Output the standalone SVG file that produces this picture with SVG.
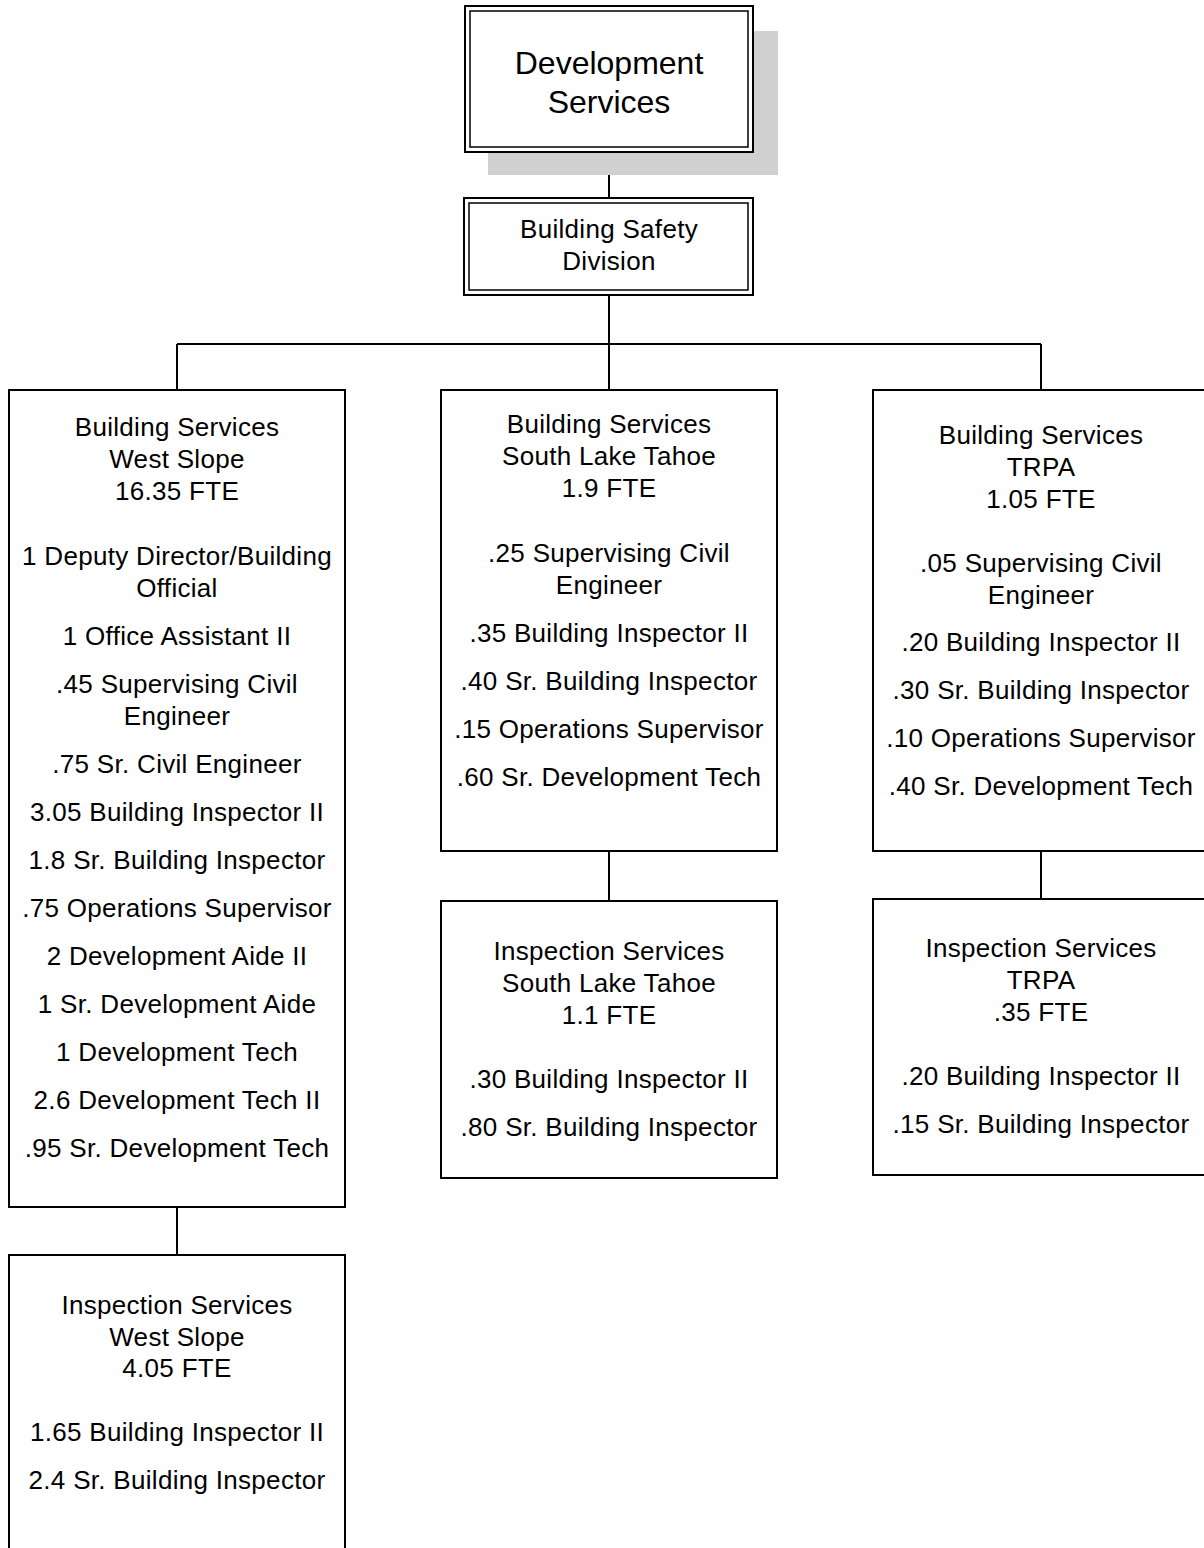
<svg xmlns="http://www.w3.org/2000/svg" width="1204" height="1548" viewBox="0 0 1204 1548">
<style>
.bx{fill:#fff;stroke:#000;stroke-width:2}
.in{fill:none;stroke:#000;stroke-width:1.5}
.sh{fill:#d0d0d0}
.ln{stroke:#000;stroke-width:2;fill:none}
text{font-family:"Liberation Sans",Arial,sans-serif;font-size:26px;letter-spacing:0.3px;fill:#000;text-anchor:middle}
.big{font-size:32px;letter-spacing:0}
</style>
<rect width="1204" height="1548" fill="#fff"/>
<g id="connectors">
<line class="ln" x1="609" y1="152" x2="609" y2="198"/>
<line class="ln" x1="609" y1="295" x2="609" y2="390"/>
<line class="ln" x1="177" y1="344" x2="1041" y2="344"/>
<line class="ln" x1="177" y1="344" x2="177" y2="390"/>
<line class="ln" x1="1041" y1="344" x2="1041" y2="390"/>
<line class="ln" x1="177" y1="1207" x2="177" y2="1255"/>
<line class="ln" x1="609" y1="851" x2="609" y2="901"/>
<line class="ln" x1="1041" y1="851" x2="1041" y2="899"/>
</g>
<g id="development-services">
<rect class="sh" x="488" y="31" width="290" height="144"/>
<rect class="bx" x="465" y="6" width="288" height="146"/>
<rect class="in" x="470" y="11" width="278" height="136"/>
<text class="big" x="609" y="74">Development</text>
<text class="big" x="609" y="113">Services</text>
</g>
<g id="building-safety-division">
<rect class="bx" x="464" y="198" width="289" height="97"/>
<rect class="in" x="469" y="203" width="279" height="87"/>
<text x="609" y="238">Building Safety</text>
<text x="609" y="270">Division</text>
</g>
<g id="bs-west-slope">
<rect class="bx" x="9" y="390" width="336" height="817"/>
<text x="177" y="436">Building Services</text>
<text x="177" y="468">West Slope</text>
<text x="177" y="500">16.35 FTE</text>
<text x="177" y="565">1 Deputy Director/Building</text>
<text x="177" y="597">Official</text>
<text x="177" y="645">1 Office Assistant II</text>
<text x="177" y="693">.45 Supervising Civil</text>
<text x="177" y="725">Engineer</text>
<text x="177" y="773">.75 Sr. Civil Engineer</text>
<text x="177" y="821">3.05 Building Inspector II</text>
<text x="177" y="869">1.8 Sr. Building Inspector</text>
<text x="177" y="917">.75 Operations Supervisor</text>
<text x="177" y="965">2 Development Aide II</text>
<text x="177" y="1013">1 Sr. Development Aide</text>
<text x="177" y="1061">1 Development Tech</text>
<text x="177" y="1109">2.6 Development Tech II</text>
<text x="177" y="1157">.95 Sr. Development Tech</text>
</g>
<g id="bs-south-lake-tahoe">
<rect class="bx" x="441" y="390" width="336" height="461"/>
<text x="609" y="433">Building Services</text>
<text x="609" y="465">South Lake Tahoe</text>
<text x="609" y="497">1.9 FTE</text>
<text x="609" y="562">.25 Supervising Civil</text>
<text x="609" y="594">Engineer</text>
<text x="609" y="642">.35 Building Inspector II</text>
<text x="609" y="690">.40 Sr. Building Inspector</text>
<text x="609" y="738">.15 Operations Supervisor</text>
<text x="609" y="786">.60 Sr. Development Tech</text>
</g>
<g id="bs-trpa">
<rect class="bx" x="873" y="390" width="336" height="461"/>
<text x="1041" y="444">Building Services</text>
<text x="1041" y="476">TRPA</text>
<text x="1041" y="508">1.05 FTE</text>
<text x="1041" y="572">.05 Supervising Civil</text>
<text x="1041" y="604">Engineer</text>
<text x="1041" y="651">.20 Building Inspector II</text>
<text x="1041" y="699">.30 Sr. Building Inspector</text>
<text x="1041" y="747">.10 Operations Supervisor</text>
<text x="1041" y="795">.40 Sr. Development Tech</text>
</g>
<g id="is-west-slope">
<rect class="bx" x="9" y="1255" width="336" height="320"/>
<text x="177" y="1314">Inspection Services</text>
<text x="177" y="1346">West Slope</text>
<text x="177" y="1377">4.05 FTE</text>
<text x="177" y="1441">1.65 Building Inspector II</text>
<text x="177" y="1489">2.4 Sr. Building Inspector</text>
</g>
<g id="is-south-lake-tahoe">
<rect class="bx" x="441" y="901" width="336" height="277"/>
<text x="609" y="960">Inspection Services</text>
<text x="609" y="992">South Lake Tahoe</text>
<text x="609" y="1024">1.1 FTE</text>
<text x="609" y="1088">.30 Building Inspector II</text>
<text x="609" y="1136">.80 Sr. Building Inspector</text>
</g>
<g id="is-trpa">
<rect class="bx" x="873" y="899" width="336" height="276"/>
<text x="1041" y="957">Inspection Services</text>
<text x="1041" y="989">TRPA</text>
<text x="1041" y="1021">.35 FTE</text>
<text x="1041" y="1085">.20 Building Inspector II</text>
<text x="1041" y="1133">.15 Sr. Building Inspector</text>
</g>
</svg>
